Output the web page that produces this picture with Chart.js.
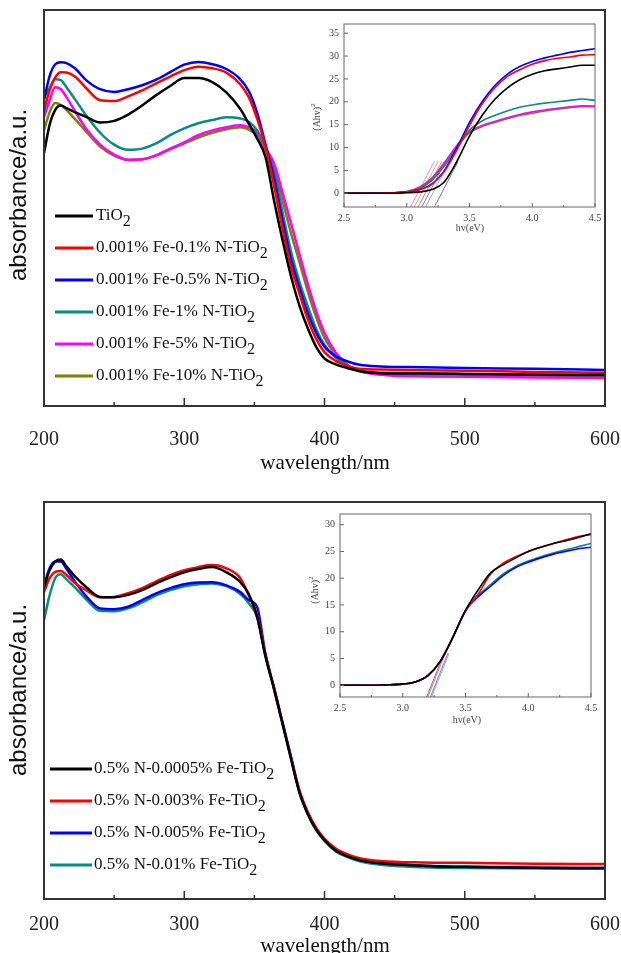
<!DOCTYPE html>
<html>
<head>
<meta charset="utf-8">
<script src="https://cdn.jsdelivr.net/npm/chart.js@4.4.1/dist/chart.umd.min.js"></script>
<style>
  html, body { margin: 0; padding: 0; background: #fff; }
  #wrap { position: relative; width: 621px; height: 953px; overflow: hidden; }
  canvas { position: absolute; }
</style>
</head>
<body>
<div id="wrap">
  <canvas id="uv-top" width="621" height="480" style="left:0;top:0"></canvas>
  <canvas id="tauc-top" width="305" height="222" style="left:300px;top:16px"></canvas>
  <canvas id="uv-bottom" width="621" height="463" style="left:0;top:490px"></canvas>
  <canvas id="tauc-bottom" width="305" height="222" style="left:296px;top:506px"></canvas>
</div>
<script>
// ---------------- UV-vis spectra (wavelength grid, nm) ----------------
const nmGrid = [200, 204, 208, 212, 216, 222, 230, 240, 250, 260, 270, 280, 290, 300, 310, 320, 330, 340,
  346, 352, 358, 364, 370, 376, 382, 388, 394, 400, 408, 416, 425, 440, 470, 500, 550, 600];

// upper panel: 0.001% Fe with varying N
const topLabels = ['TiO2', '0.001% Fe-0.1% N-TiO2', '0.001% Fe-0.5% N-TiO2',
  '0.001% Fe-1% N-TiO2', '0.001% Fe-5% N-TiO2', '0.001% Fe-10% N-TiO2'];
const absTiO2 = [63.8, 71, 74.8, 75.9, 75.2, 74.2, 73.0, 71.6, 72, 73.6, 75.9, 78.5, 80.8, 82.8, 82.8, 81.8, 79.2, 75,
  71.3, 67.5, 62.8, 51.9, 42, 32.9, 25.5, 19.7, 15, 12.0, 10.5, 9.6, 8.8, 8.3, 8.2, 8.1, 7.9, 7.8];
const absN01 = [74.7, 79.7, 83, 84.3, 84.2, 83.2, 80.3, 77.2, 77.0, 78.2, 79.7, 81.5, 83.2, 84.8, 85.7, 85.3, 84.2, 81.2,
  78, 72.5, 65.5, 55.7, 45, 35.4, 28.5, 22.0, 17, 13.6, 11.4, 10.2, 9.4, 9.2, 9.0, 8.9, 8.6, 8.4];
const absN05 = [77.2, 83.3, 86.3, 86.8, 86.6, 85.3, 82.3, 80.0, 79.3, 80.0, 81.0, 82.4, 84.3, 86.2, 86.9, 86.3, 85.1, 82.5,
  79.5, 74, 66, 57.5, 47, 37.2, 30, 23.5, 18.5, 15.0, 12.6, 11.3, 10.4, 10.0, 9.8, 9.6, 9.4, 9.1];
const absN1 = [78.0, 80.3, 82.5, 82.3, 80.5, 77.5, 73.4, 69, 66, 64.7, 65.0, 66.3, 68.4, 70.1, 71.4, 72.2, 72.9, 72.6,
  71.8, 69.6, 65.3, 59.0, 49, 39.2, 31.5, 25.3, 19.5, 15.4, 12.2, 10.3, 8.9, 8.4, 8.2, 8.1, 7.9, 7.8];
const absN5 = [72.9, 77.2, 80.5, 80.0, 78.0, 74.5, 70, 66, 63.5, 62.2, 62.3, 63.3, 65, 66.6, 68.4, 69.6, 70.4, 70.9,
  70.4, 69, 65.1, 61.3, 54, 46.3, 38.5, 30.9, 24, 18.5, 13.5, 10.5, 8.9, 7.9, 7.5, 7.4, 7.2, 7.1];
const absN10 = [69.6, 74.2, 76.5, 76, 74.8, 72.5, 69.3, 65.5, 63.2, 62.1, 62.3, 63.3, 64.8, 66.3, 67.8, 69.0, 69.9, 70.4,
  69.8, 68.3, 64.6, 60.0, 52, 43.8, 36.5, 29.1, 22.5, 17.2, 13, 10.3, 8.8, 8.0, 7.6, 7.5, 7.4, 7.3];

// lower panel: 0.5% N with varying Fe
const bottomLabels = ['0.5% N-0.0005% Fe-TiO2', '0.5% N-0.003% Fe-TiO2',
  '0.5% N-0.005% Fe-TiO2', '0.5% N-0.01% Fe-TiO2'];
const absFe00005 = [78.5, 82.8, 85, 85.5, 83.8, 81.3, 78.6, 76.1, 76.0, 76.6, 77.8, 79.5, 81, 82.3, 83.1, 83.6, 82.3, 79.8,
  76.8, 71, 61, 53, 44.3, 35.5, 27, 21.5, 17.5, 14.8, 12.2, 10.8, 9.8, 9.0, 8.4, 8.1, 7.9, 7.8];
const absFe0003 = [77.3, 80.8, 82.4, 82.6, 81.6, 79.6, 77.8, 76.0, 76.1, 77.0, 78.3, 80, 81.6, 82.8, 83.6, 84.1, 83.3, 80.8,
  76.5, 71.5, 61.5, 53, 44.5, 35.8, 27.5, 22, 18, 15.2, 12.7, 11.3, 10.3, 9.6, 9.2, 9.1, 8.9, 8.8];
const absFe0005 = [79.0, 83.3, 85, 85, 83.2, 80, 76.3, 73.2, 73, 73.6, 75.3, 77, 78.3, 79.3, 79.7, 79.8, 79.0, 77.3,
  75.3, 73.5, 61.5, 53.3, 44.6, 36, 27.3, 21.7, 17.7, 15.0, 12.4, 10.9, 9.8, 9.0, 8.4, 8.1, 7.9, 7.8];
const absFe001 = [70.2, 76.5, 80.8, 81.8, 80.5, 78.5, 75.5, 72.6, 72.5, 73.2, 74.7, 76.5, 77.8, 78.8, 79.3, 79.5, 78.8, 76.8,
  74.5, 71, 61, 52.8, 44.2, 35.6, 27, 21.4, 17.4, 14.6, 12.0, 10.6, 9.5, 8.6, 8.0, 7.8, 7.7, 7.6];

// ---------------- Tauc plots (photon energy grid, eV) ----------------
const evGrid = [2.5, 2.7, 2.9, 3.0, 3.1, 3.2, 3.3, 3.4, 3.5, 3.6, 3.7, 3.8, 3.9, 4.0, 4.1, 4.2, 4.3, 4.4, 4.5];

const taucTiO2 = [0, 0, 0, 0.1, 0.3, 0.8, 2.5, 7, 12.5, 17, 20.5, 23, 24.8, 26, 26.8, 27.2, 27.6, 28, 28];
const taucN01 = [0, 0, 0.1, 0.3, 0.8, 2, 4.8, 9.5, 14.8, 19.5, 23, 25.5, 27, 28.2, 29, 29.5, 29.8, 30.2, 30.3];
const taucN05 = [0, 0, 0.1, 0.3, 0.8, 2, 5, 10, 15.5, 20, 23.5, 26, 27.7, 28.8, 29.6, 30.2, 30.8, 31.2, 31.6];
const taucN1 = [0, 0, 0.1, 0.3, 1, 2.8, 6, 10, 13.8, 15.8, 17, 18, 18.8, 19.3, 19.7, 20, 20.3, 20.6, 20.3];
const taucN5 = [0, 0, 0.1, 0.4, 1.2, 3.2, 6.6, 10.5, 13.5, 14.8, 15.7, 16.5, 17.2, 17.8, 18.2, 18.6, 18.9, 19.1, 19.0];
const taucN10 = [0, 0, 0.1, 0.4, 1.3, 3.3, 6.7, 10.2, 13.2, 14.6, 15.5, 16.3, 17, 17.5, 18, 18.4, 18.7, 19, 19];
const taucTopTicks = [0, 5, 10, 15, 20, 25, 30, 35];
// linear extrapolations: energy at the lower and upper end of each fitted line
const fitTopLow = [3.22, 3.09, 3.12, 3.15, 3.03, 3.06];
const fitTopHigh = [3.41, 3.28, 3.31, 3.34, 3.22, 3.25];
const fitTopYRange = [-3, 7];

const taucFe00005 = [0, 0, 0.1, 0.2, 0.6, 1.8, 4.5, 9, 14, 17.8, 21, 22.5, 23.8, 25, 25.8, 26.5, 27, 27.6, 28.3];
const taucFe0003 = [0, 0, 0.1, 0.2, 0.6, 1.8, 4.5, 9, 13.8, 17, 20.8, 22.8, 24, 25, 25.8, 26.5, 27.2, 27.8, 28.2];
const taucFe0005 = [0, 0, 0.1, 0.2, 0.6, 1.8, 4.5, 9, 14, 16.5, 18.5, 20.5, 22, 23, 23.8, 24.5, 25, 25.5, 25.8];
const taucFe001 = [0, 0, 0.1, 0.2, 0.6, 1.8, 4.5, 9, 14, 16.8, 18.8, 20.8, 22.2, 23.2, 24, 24.7, 25.3, 25.9, 26.5];
const taucBottomTicks = [0, 5, 10, 15, 20, 25, 30];
const fitBottomLow = [3.19, 3.2, 3.22, 3.23];
const fitBottomHigh = [3.33, 3.34, 3.36, 3.37];
const fitBottomYRange = [-2.2, 6];

const topColors = ['#000000', '#ff0000', '#0000ff', '#0a8a80', '#ff00ff', '#808000'];
const bottomColors = ['#000000', '#ff0000', '#0000ff', '#0a8a80'];

Chart.defaults.font.family = '"Liberation Serif", "Times New Roman", serif';
Chart.defaults.animation = false;

function toPoints(xs, ys) { return xs.map((x, i) => ({ x, y: ys[i] })); }

// text with an optional raised or lowered trailing script
function drawText(ctx, t) {
  ctx.save();
  ctx.translate(t.x, t.y);
  if (t.rot) ctx.rotate(t.rot);
  ctx.fillStyle = t.color || '#111';
  ctx.textBaseline = 'middle';
  ctx.textAlign = 'left';
  ctx.font = t.font;
  const w1 = ctx.measureText(t.text).width;
  let w2 = 0;
  if (t.script) { ctx.font = t.scriptFont; w2 = ctx.measureText(t.script).width; }
  const x0 = t.align === 'left' ? 0 : -(w1 + w2) / 2;
  ctx.font = t.font;
  ctx.fillText(t.text, x0, 0);
  if (t.script) {
    ctx.font = t.scriptFont;
    ctx.fillText(t.script, x0 + w1, t.scriptShift);
  }
  ctx.restore();
}

// fixed axis box: no extra side room for the end tick labels
function fixedHeight(h) {
  return s => { s.height = h; s.paddingLeft = 0; s.paddingRight = 0; };
}

// frame, inward tick marks, axis labels and line legend
const decor = {
  id: 'decor',
  afterDatasetsDraw(chart, args, o) {
    const { ctx, chartArea: a } = chart;
    const xs = chart.scales.x, ys = chart.scales.y;
    ctx.save();
    ctx.strokeStyle = o.color;
    ctx.lineWidth = o.tickWidth;
    ctx.beginPath();
    for (let v = xs.min; v <= xs.max + 1e-9; v += o.xMinor) {
      const major = Math.abs(v / o.xMajor - Math.round(v / o.xMajor)) < 1e-6;
      const px = xs.getPixelForValue(v);
      ctx.moveTo(px, a.bottom);
      ctx.lineTo(px, a.bottom - (major ? o.majorLen : o.minorLen));
    }
    if (o.yStep) {
      for (let v = Math.ceil(ys.min / o.yStep) * o.yStep; v <= ys.max; v += o.yStep) {
        const py = ys.getPixelForValue(v);
        ctx.moveTo(a.left, py);
        ctx.lineTo(a.left + o.majorLen, py);
      }
    }
    ctx.stroke();
    ctx.lineWidth = o.frameWidth;
    ctx.strokeRect(a.left, a.top, a.right - a.left, a.bottom - a.top);

    (o.texts || []).forEach(t => drawText(ctx, t));

    if (o.legend) {
      const L = o.legend;
      chart.data.datasets.filter(d => d.inLegend).forEach((d, i) => {
        const y = L.y + i * L.dy;
        ctx.strokeStyle = d.borderColor;
        ctx.lineWidth = 3;
        ctx.beginPath();
        ctx.moveTo(L.x1, y);
        ctx.lineTo(L.x2, y);
        ctx.stroke();
        const ends2 = d.label.endsWith('O2');
        drawText(ctx, {
          x: L.textX, y, align: 'left', font: L.font, color: '#111',
          text: ends2 ? d.label.slice(0, -1) : d.label,
          script: ends2 ? '2' : '', scriptFont: L.subFont, scriptShift: L.subShift
        });
      });
    }
    ctx.restore();
  }
};

function spectrumChart(id, labels, series, colors, geo) {
  return new Chart(document.getElementById(id), {
    type: 'line',
    data: {
      datasets: series.map((s, i) => ({
        label: labels[i],
        data: toPoints(nmGrid, s),
        borderColor: colors[i],
        borderWidth: 2.5,
        pointRadius: 0,
        cubicInterpolationMode: 'monotone',
        inLegend: true
      }))
    },
    options: {
      responsive: false,
      devicePixelRatio: 1,
      layout: { padding: { left: 44, right: 16, top: geo.top, bottom: 0 } },
      plugins: {
        legend: { display: false },
        tooltip: { enabled: false },
        decor: {
          color: '#333', tickWidth: 1.5, frameWidth: 2,
          xMajor: 100, xMinor: 50, majorLen: 8, minorLen: 4,
          texts: [
            { text: 'wavelength/nm', x: 325, y: geo.xTitleY, font: '21px "Liberation Serif"' },
            { text: 'absorbance/a.u.', x: 19, y: geo.yTitleY, rot: -Math.PI / 2, font: '24px "Liberation Sans"' }
          ],
          legend: {
            x1: geo.legX1, x2: geo.legX2, textX: geo.legTextX, y: geo.legY, dy: 32,
            font: '17px "Liberation Serif"', subFont: '16px "Liberation Serif"', subShift: 6
          }
        }
      },
      scales: {
        x: {
          type: 'linear', min: 200, max: 600,
          ticks: { stepSize: 100, color: '#222', font: { size: 20 }, padding: geo.tickPad, maxRotation: 0 },
          grid: { display: false, drawTicks: false },
          border: { display: false },
          afterFit: fixedHeight(geo.axisH)
        },
        y: { display: false, min: 0, max: 100 }
      }
    },
    plugins: [decor]
  });
}

function taucChart(id, series, colors, fitLow, fitHigh, fitY, yMin, yMax, yTicks, geo) {
  const curves = series.map((s, i) => ({
    data: toPoints(evGrid, s),
    borderColor: colors[i],
    borderWidth: 1.6,
    pointRadius: 0,
    cubicInterpolationMode: 'monotone'
  }));
  const fits = fitLow.map((x0, i) => ({
    data: [{ x: x0, y: fitY[0] }, { x: fitHigh[i], y: fitY[1] }],
    borderColor: colors[i] + '88',
    borderWidth: 1,
    pointRadius: 0
  }));
  return new Chart(document.getElementById(id), {
    type: 'line',
    data: { datasets: curves.concat(fits) },
    options: {
      responsive: false,
      devicePixelRatio: 1,
      layout: { padding: { left: 0, right: 10, top: 8, bottom: 0 } },
      plugins: {
        legend: { display: false },
        tooltip: { enabled: false },
        decor: {
          color: '#666', tickWidth: 1, frameWidth: 1,
          xMajor: 0.5, xMinor: 0.25, majorLen: 4, minorLen: 2, yStep: 5,
          texts: [
            { text: 'hv(eV)', x: geo.xTitleX, y: geo.xTitleY, font: '10px "Liberation Serif"', color: '#444' },
            { text: '(Ahv)', x: geo.yTitleX, y: geo.yTitleY, rot: -Math.PI / 2, font: '10px "Liberation Serif"',
              color: '#444', script: '2', scriptFont: '7px "Liberation Serif"', scriptShift: -4 }
          ]
        }
      },
      scales: {
        x: {
          type: 'linear', min: 2.5, max: 4.5,
          ticks: { stepSize: 0.5, color: '#444', font: { size: 10 }, padding: 5, maxRotation: 0,
            callback: v => v.toFixed(1) },
          grid: { display: false, drawTicks: false },
          border: { display: false },
          afterFit: fixedHeight(31)
        },
        y: {
          min: yMin, max: yMax,
          ticks: { color: '#444', font: { size: 10 }, padding: 5 },
          afterBuildTicks: s => { s.ticks = yTicks.map(value => ({ value })); },
          grid: { display: false, drawTicks: false },
          border: { display: false },
          afterFit: s => { s.width = 44; s.paddingTop = 0; s.paddingBottom = 0; }
        }
      }
    },
    plugins: [decor]
  });
}

spectrumChart('uv-top', topLabels, [absTiO2, absN01, absN05, absN1, absN5, absN10], topColors,
  { top: 10, axisH: 74, tickPad: 22, xTitleY: 463, yTitleY: 195, legX1: 55, legX2: 93, legTextX: 96, legY: 216 });
spectrumChart('uv-bottom', bottomLabels, [absFe00005, absFe0003, absFe0005, absFe001], bottomColors,
  { top: 12, axisH: 54, tickPad: 14, xTitleY: 456, yTitleY: 200, legX1: 50, legX2: 92, legTextX: 94, legY: 279 });

taucChart('tauc-top', [taucTiO2, taucN01, taucN05, taucN1, taucN5, taucN10], topColors,
  fitTopLow, fitTopHigh, fitTopYRange, -3, 37, taucTopTicks,
  { xTitleX: 170, xTitleY: 212, yTitleX: 17, yTitleY: 101 });
taucChart('tauc-bottom', [taucFe00005, taucFe0003, taucFe0005, taucFe001], bottomColors,
  fitBottomLow, fitBottomHigh, fitBottomYRange, -2.2, 32, taucBottomTicks,
  { xTitleX: 171, xTitleY: 214, yTitleX: 19, yTitleY: 84 });
</script>
</body>
</html>
